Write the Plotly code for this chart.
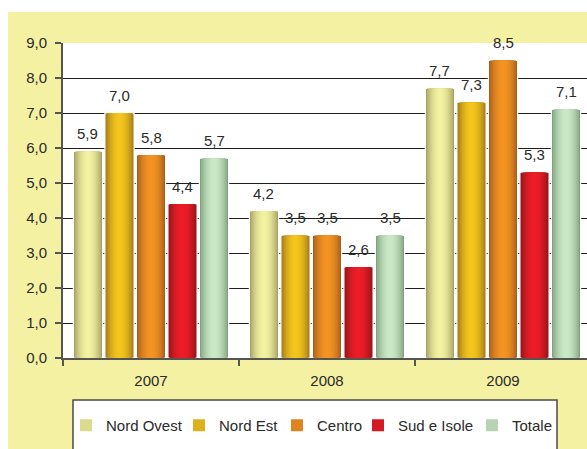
import plotly.graph_objects as go

# ---- data ----
years = ["2007", "2008", "2009"]
series_names = ["Nord Ovest", "Nord Est", "Centro", "Sud e Isole", "Totale"]
nord_ovest = [5.9, 4.2, 7.7]
nord_est = [7.0, 3.5, 7.3]
centro = [5.8, 3.5, 8.5]
sud_isole = [4.4, 2.6, 5.3]
totale = [5.7, 3.5, 7.1]
y_tick_values = [0, 1, 2, 3, 4, 5, 6, 7, 8, 9]

series_values = [nord_ovest, nord_est, centro, sud_isole, totale]

# ---- style ----
W, H = 587, 449
M_L, M_R, M_T, M_B = 63, 0, 43, 91
BG_YELLOW = "#f4f1a3"
TEXT = "#2a2a2a"
AXIS = "#555555"
FONT = "Liberation Sans, Arial, sans-serif"

# (edge colour, highlight colour) for the cylindrical shading of each series
shading = [
    ("#9c9a5c", "#f3f1a2"),
    ("#9a721c", "#f4c51c"),
    ("#a0581c", "#f39422"),
    ("#8c1419", "#ec1d26"),
    ("#789a78", "#cae8c6"),
]

# left edge (px) of each legend entry, one legend per series
legend_left_px = [66, 179, 277, 358, 472]

BAR_STEP = 0.179   # distance between bar centres inside a group (category units)
BAR_W = 0.166      # bar width (category units)
N_LAYERS = 9


def hex_to_rgb(h):
    h = h.lstrip("#")
    return tuple(int(h[i:i + 2], 16) for i in (0, 2, 4))


def mix(c1, c2, t):
    a, b = hex_to_rgb(c1), hex_to_rgb(c2)
    r = [round(a[i] + (b[i] - a[i]) * t) for i in range(3)]
    return "rgb({},{},{})".format(*r)


def px_x(p):
    return (p - M_L) / (W - M_L - M_R)


def px_y(p):
    return (H - M_B - p) / (H - M_T - M_B)


def fmt(v):
    return f"{v:.1f}".replace(".", ",")


def legend_id(i):
    return "legend" if i == 0 else f"legend{i + 1}"


fig = go.Figure()

for i, (name, vals) in enumerate(zip(series_names, series_values)):
    edge, light = shading[i]
    centre = (i - 2) * BAR_STEP
    for k in range(N_LAYERS):
        frac = 1 - k / N_LAYERS               # half-width fraction of this layer
        xpos = max(frac - 0.5 / N_LAYERS, 0)
        t = 1 - xpos ** 2                     # brightness profile of a cylinder
        w = BAR_W * frac
        fig.add_trace(go.Bar(
            x=years,
            y=vals,
            name=name,
            legendgroup=name,
            legend=legend_id(i),
            showlegend=(k == N_LAYERS // 2),
            width=w,
            offset=centre - w / 2,
            marker=dict(
                color=mix(edge, light, t),
                line=dict(color="white", width=1.2 if k == 0 else 0),
            ),
            hoverinfo="skip" if k else "x+y+name",
        ))

# value labels above the bars
annotations = []
for i, vals in enumerate(series_values):
    centre = (i - 2) * BAR_STEP
    for j, v in enumerate(vals):
        annotations.append(dict(
            x=j + centre, y=v, xref="x", yref="y",
            text=fmt(v), showarrow=False,
            yanchor="middle", yshift=18,
            font=dict(size=15, color=TEXT, family=FONT),
        ))

shapes = [
    # white strips framing the coloured panel
    dict(type="rect", xref="paper", yref="paper", layer="below",
         x0=px_x(-10), x1=px_x(W + 10), y0=px_y(12), y1=px_y(-10),
         fillcolor="white", line=dict(width=0)),
    dict(type="rect", xref="paper", yref="paper", layer="below",
         x0=px_x(-10), x1=px_x(8), y0=px_y(H + 10), y1=px_y(-10),
         fillcolor="white", line=dict(width=0)),
    # legend box
    dict(type="rect", xref="paper", yref="paper", layer="below",
         x0=px_x(73), x1=px_x(557), y0=px_y(470), y1=px_y(400),
         fillcolor="white", line=dict(color="#4a4a4a", width=1.5)),
]

legends = {}
for i in range(len(series_names)):
    legends[legend_id(i)] = dict(
        orientation="h",
        x=px_x(legend_left_px[i]), xanchor="left",
        y=px_y(409), yanchor="top",
        bgcolor="rgba(0,0,0,0)", borderwidth=0,
        font=dict(size=15, color=TEXT, family=FONT),
        itemclick=False, itemdoubleclick=False,
    )

fig.update_layout(
    width=W, height=H,
    margin=dict(l=M_L, r=M_R, t=M_T, b=M_B, pad=0),
    paper_bgcolor=BG_YELLOW,
    plot_bgcolor="white",
    barmode="overlay",
    separators=",.",
    font=dict(family=FONT, size=15, color=TEXT),
    showlegend=True,
    xaxis=dict(
        type="category",
        range=[-0.5, -0.5 + (W - M_L - M_R) / 176],
        showline=True, linecolor=AXIS, linewidth=2,
        ticks="outside", tickson="boundaries", ticklen=6,
        tickcolor=AXIS, tickwidth=1.5,
        showgrid=False,
        ticklabelstandoff=8,
        tickfont=dict(size=15, color=TEXT),
        fixedrange=True,
    ),
    yaxis=dict(
        range=[0, 9],
        tickvals=y_tick_values,
        tickformat=".1f",
        showline=True, linecolor=AXIS, linewidth=2,
        ticks="outside", ticklen=6, tickcolor=AXIS, tickwidth=1.5,
        showgrid=True, gridcolor="#1e1e1e", gridwidth=1,
        zeroline=False,
        ticklabelstandoff=5,
        tickfont=dict(size=15, color=TEXT),
        fixedrange=True,
    ),
    annotations=annotations,
    shapes=shapes,
    **legends,
)

fig.write_html("out.html", config=dict(displayModeBar=False))
